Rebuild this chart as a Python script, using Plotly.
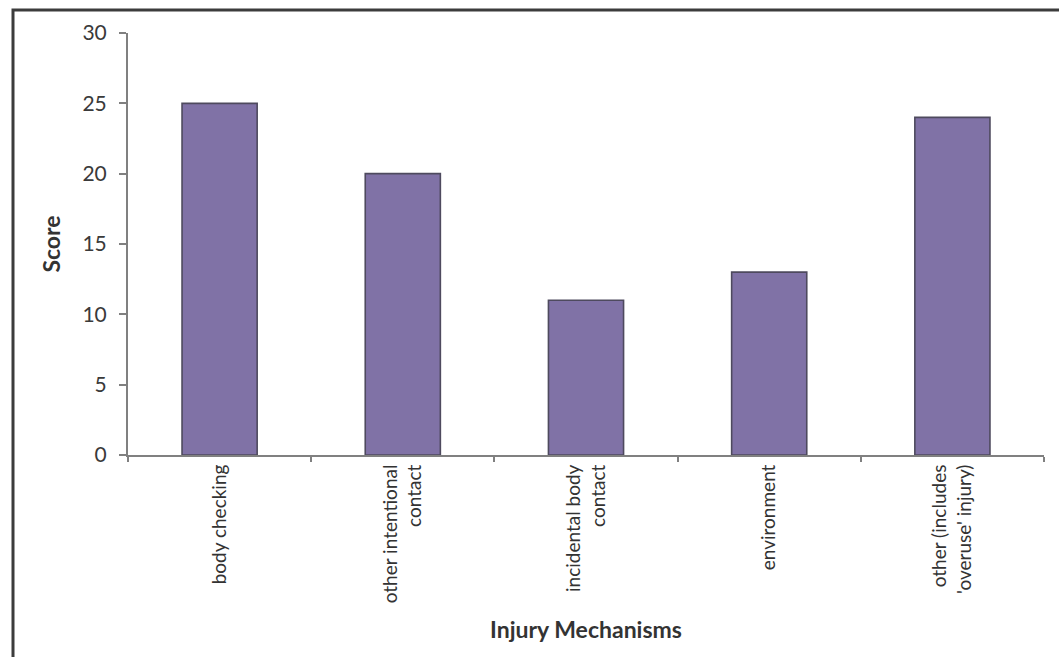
import plotly.graph_objects as go

# Injury mechanism categories and their scores
mechanisms = [
    "body checking",
    "other intentional<br>contact",
    "incidental body<br>contact",
    "environment",
    "other (includes<br>'overuse' injury)",
]
scores = [25, 20, 11, 13, 24]

y_ticks = [0, 5, 10, 15, 20, 25, 30]

W, H = 1059, 657
L, R, T, B = 128, 15, 33, 202

fig = go.Figure(
    go.Bar(
        x=mechanisms,
        y=scores,
        width=0.41,
        marker=dict(color="#8072A6", line=dict(color="#4E4A5E", width=1.6)),
    )
)

# outer frame of the chart area, open on the right and bottom
pw, ph = W - L - R, H - T - B
fx0 = (13 - L) / pw
fy1 = (H - B - 10) / ph
fig.add_shape(
    type="rect", xref="paper", yref="paper",
    x0=fx0, x1=1.3, y0=-1.0, y1=fy1,
    line=dict(color="#3c3c3c", width=3),
)

fig.update_layout(
    width=W, height=H,
    margin=dict(l=L, r=R, t=T, b=B),
    paper_bgcolor="white", plot_bgcolor="white",
    showlegend=False,
    font=dict(family="Lato, Open Sans, sans-serif", color="#333333"),
    xaxis=dict(
        tickangle=-90,
        tickfont=dict(size=19, color="#333333"),
        showline=True, linecolor="#808080", linewidth=2,
        ticks="outside", ticklen=5, tickcolor="#808080", tickwidth=1.5,
        tickson="boundaries",
        showgrid=False,
        title=dict(text="<b>Injury Mechanisms</b>", font=dict(size=23, color="#333333"), standoff=20),
    ),
    yaxis=dict(
        range=[0, 30],
        tickvals=y_ticks,
        tickfont=dict(size=21, color="#3a3a3a"),
        showline=True, linecolor="#808080", linewidth=2,
        ticks="outside", ticklen=7, tickcolor="#808080", tickwidth=1.5,
        showgrid=False, zeroline=False,
        ticklabelstandoff=8,
        title=dict(text="<b>Score</b>", font=dict(size=23, color="#333333"), standoff=15),
    ),
)

fig.write_html("out.html")
